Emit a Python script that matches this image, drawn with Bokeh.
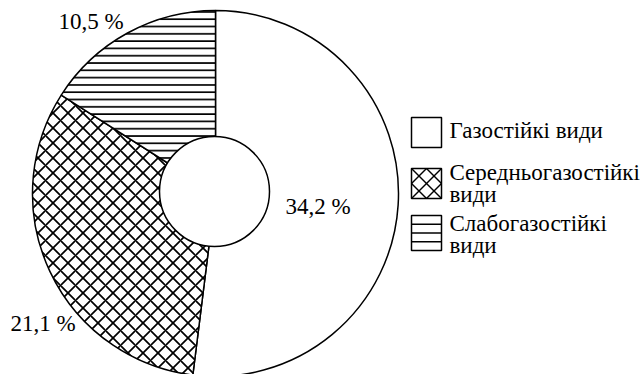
import numpy as np
from bokeh.plotting import figure
from bokeh.models import Range1d
from bokeh.core.properties import value
from bokeh.embed import file_html
from bokeh.resources import INLINE

# ---- data ----
categories = ["Газостійкі види", "Середньогазостійкі види", "Слабогазостійкі види"]
values = [34.2, 21.1, 10.5]
pct_labels = ["34,2 %", "21,1 %", "10,5 %"]
legend_lines = [["Газостійкі види"], ["Середньогазостійкі", "види"], ["Слабогазостійкі", "види"]]
hatches = ["blank", "diagonal_cross", "horizontal_line"]
hatch_scales = [10, 15, 7.3]

W, H = 641, 374
FONT = "Liberation Serif"
FS = "23px"

def Y(py):
    return H - py

p = figure(width=W, height=H, output_backend="svg", toolbar_location=None,
           x_range=Range1d(0, W), y_range=Range1d(0, H), min_border=0,
           background_fill_color="white", border_fill_color="white")
p.axis.visible = False
p.grid.visible = False
p.outline_line_color = None

cx, cy = 215, Y(193)
R, r_in = 183, 55

vals = np.array(values, dtype=float)
frac = vals / vals.sum()
cum = np.concatenate([[0.0], np.cumsum(frac)])
# start at top, go clockwise
starts = np.pi / 2 - cum[1:] * 2 * np.pi
ends = np.pi / 2 - cum[:-1] * 2 * np.pi

for i in range(len(values)):
    p.wedge(x=cx, y=cy, radius=R, start_angle=starts[i], end_angle=ends[i],
            fill_color="white", line_color="black", line_width=1.5,
            hatch_pattern=hatches[i], hatch_scale=hatch_scales[i],
            hatch_color="black", hatch_weight=1.7)

# central hole
p.circle(x=cx - 1, y=cy + 2, radius=r_in, fill_color="white",
         line_color="black", line_width=1.5)

# percentage labels (y = vertical centre of the digits)
lab_pos = [(285, 206), (10, 323), (58, 21)]
for i, t in enumerate(pct_labels):
    lx, ly = lab_pos[i]
    p.text(x=[lx], y=[Y(ly)], text=[t], text_font=value(FONT), text_font_size=FS,
           text_color="black", text_align="left", text_baseline="middle")

# legend
bx0, bx1 = 411, 441
boxes = [(117, 147), (168, 198), (215, 250)]
centers = [[130], [172, 194], [223, 245]]
for i in range(3):
    t0, t1 = boxes[i]
    p.quad(left=bx0, right=bx1, top=Y(t0), bottom=Y(t1), fill_color="white",
           line_color="black", line_width=1.5)
    if hatches[i] == "diagonal_cross":
        mx, my = (bx0 + bx1) / 2, (t0 + t1) / 2
        xs0 = [bx0, bx0, mx, bx0, mx, bx1]
        ys0 = [t0, t1, t0, my, t1, my]
        xs1 = [bx1, bx1, bx0, mx, bx1, mx]
        ys1 = [t1, t0, my, t1, my, t0]
        p.segment(x0=xs0, y0=[Y(v) for v in ys0], x1=xs1, y1=[Y(v) for v in ys1],
                  line_color="black", line_width=1.4)
    elif hatches[i] == "horizontal_line":
        n = 4
        ys = [t0 + (t1 - t0) * k / n for k in range(1, n)]
        p.segment(x0=[bx0] * len(ys), y0=[Y(v) for v in ys], x1=[bx1] * len(ys),
                  y1=[Y(v) for v in ys], line_color="black", line_width=1.4)
    for j, line in enumerate(legend_lines[i]):
        p.text(x=[449], y=[Y(centers[i][j])], text=[line], text_font=value(FONT),
               text_font_size=FS, text_color="black", text_align="left",
               text_baseline="middle")

open("out.html", "w").write(file_html(p, INLINE))
